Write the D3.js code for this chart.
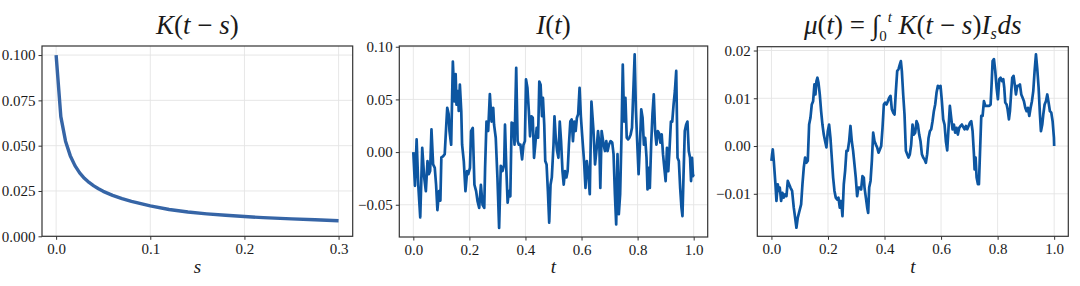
<!DOCTYPE html>
<html>
<head>
<meta charset="utf-8">
<script src="https://cdn.jsdelivr.net/npm/d3@7"></script>
<style>
  html, body { margin: 0; padding: 0; background: #ffffff; }
  svg { display: block; }
  text { font-family: 'Liberation Serif', serif; fill: #1a1a1a; }
</style>
</head>
<body>
<svg id="chart" width="1080" height="286"></svg>
<script>
// ---------- data ----------
const kS = [0, 0.005, 0.01, 0.015, 0.02, 0.025, 0.03, 0.035, 0.04, 0.045, 0.05, 0.06, 0.07, 0.08, 0.09, 0.1,
            0.12, 0.14, 0.16, 0.18, 0.2, 0.22, 0.25, 0.275, 0.3];
const kV = [0.1, 0.066, 0.0525, 0.0445, 0.039, 0.035, 0.032, 0.0297, 0.0278, 0.0262, 0.0248, 0.0226, 0.0208, 0.0193, 0.018, 0.0168,
            0.0148, 0.0134, 0.0124, 0.0116, 0.0109, 0.0103, 0.0096, 0.0091, 0.0086];

const iT = [0, 0.0059, 0.0118, 0.0176, 0.0247, 0.0318, 0.0388, 0.0447, 0.0506, 0.0553, 0.06, 0.0647, 0.0706, 0.0765, 0.0812,
  0.0859, 0.0918, 0.0965, 0.1, 0.106, 0.112, 0.118, 0.121, 0.126, 0.129, 0.135, 0.141, 0.147, 0.151, 0.154, 0.159, 0.162,
  0.166, 0.171, 0.174, 0.18, 0.186, 0.192, 0.196, 0.202, 0.206, 0.212, 0.218, 0.224, 0.229, 0.235, 0.241, 0.247, 0.253,
  0.256, 0.261, 0.267, 0.273, 0.279, 0.285, 0.288, 0.294, 0.3, 0.306, 0.312, 0.318, 0.324,
  0.327, 0.332, 0.3364, 0.341, 0.346, 0.3506, 0.3564, 0.361, 0.367, 0.372, 0.3764, 0.382, 0.388, 0.393, 0.398, 0.402,
  0.407, 0.412, 0.4164, 0.421, 0.426, 0.4306, 0.435, 0.44, 0.445, 0.4494, 0.454, 0.459, 0.4623, 0.467, 0.4706, 0.4753,
  0.48, 0.4847, 0.4894, 0.494, 0.5, 0.5035, 0.508, 0.513, 0.5176, 0.5223, 0.527, 0.532, 0.5364, 0.541, 0.546, 0.5505,
  0.555, 0.56, 0.5647, 0.5694, 0.574, 0.579, 0.5835, 0.588, 0.593, 0.5976, 0.602, 0.609, 0.6141, 0.6188, 0.6235, 0.6294,
  0.6353, 0.6423, 0.6482, 0.6541, 0.6588, 0.6635, 0.667, 0.6717,
  0.6789, 0.6836, 0.6883, 0.693, 0.6977, 0.7036, 0.7095, 0.7142, 0.719, 0.7236, 0.7283, 0.733, 0.7377, 0.7424, 0.7471,
  0.7518, 0.7565, 0.7612, 0.766, 0.7706, 0.7753, 0.78, 0.7847, 0.7895, 0.794, 0.799, 0.8035, 0.8083, 0.813, 0.8177,
  0.8224, 0.827, 0.8318, 0.8353, 0.8389, 0.8436, 0.8483, 0.853, 0.8577, 0.8624, 0.8671, 0.8718, 0.8765, 0.8812, 0.8859,
  0.8906, 0.8953, 0.9, 0.9047, 0.9094, 0.9141, 0.9188, 0.9235, 0.9283, 0.933, 0.9377, 0.9424, 0.9471, 0.9518, 0.9565,
  0.96, 0.9636, 0.9683, 0.973, 0.9777, 0.9824, 0.9871, 0.9906, 0.9942, 0.9975, 1.0];
const iV = [0, -0.032, 0.012, -0.031, -0.062, 0.004, -0.024, -0.037, -0.0085, -0.021, -0.018, 0.0215, -0.0117, -0.015, -0.031,
  -0.055, -0.037, -0.046, -0.005, -0.004, -0.002, 0.028, 0.042, 0.036, 0.020, 0.007, 0.086, 0.048, 0.074, 0.045, 0.058, 0.039,
  0.064, 0.039, 0.007, -0.0085, -0.037, -0.018, -0.021, -0.015, 0.020, 0.023, -0.031, -0.037, -0.0465, -0.053, -0.031, -0.050, -0.053,
  -0.015, 0.029, 0.020, 0.055, 0.029, 0.042, 0.026, 0.0136, -0.024, -0.072, -0.013, -0.018, -0.012,
  0.026, -0.018, -0.048, -0.037, -0.042, 0.028, 0.027, 0.007, 0.080, 0.0104, 0.007, 0.007, -0.007, 0.007, 0.0104, 0.069,
  0.061, 0.039, 0.015, 0.034, 0.0326, -0.0054, 0.007, 0.023, 0.0136, 0.067, 0.064, 0.034, 0.0515, 0.026, -0.0085, -0.0117,
  -0.037, -0.067, -0.031, -0.024, 0.007, 0.034, 0.0136, 0.001, -0.0054, 0.029, 0.0104, -0.018, -0.031, -0.018, -0.024, -0.018,
  0.007, 0.029, 0.031, 0.0104, 0.029, 0.020, 0.0326, 0.036, 0.061, 0.034, 0.0168, -0.0085, -0.034, -0.0085, -0.018, -0.040,
  0.048, 0.0215, -0.0117, 0.004, 0.020, 0.007, -0.034, 0.020,
  0.007, 0.001, 0.0104, 0.001, 0.007, 0.0104, 0.009, -0.002, -0.040, -0.0686, -0.002, -0.059, -0.040, 0.0136, 0.083,
  0.029, 0.0515, 0.0136, 0.012, 0.0136, 0.0168, 0.023, 0.058, 0.0927, 0.039, 0.007, -0.021, 0.007, 0.0405, 0.0326,
  0.007, 0.0136, -0.0054, -0.0354, -0.015, -0.034, 0.007, 0.036, 0.0547, 0.020, 0.007, 0.020, 0.018, 0.009, 0.0168,
  -0.002, -0.015, -0.0275, 0.004, -0.018, 0.004, 0.029, 0.029, 0.045, 0.058, 0.077, -0.0054, -0.0085, -0.034, -0.053,
  -0.0607, -0.024, 0.020, 0.026, 0.029, 0.001, -0.0054, -0.0275, -0.0054, -0.0228, -0.021];

const muT = [0, 0.0024, 0.0047, 0.0083, 0.0142, 0.0177, 0.0224, 0.0259, 0.0295, 0.0342, 0.0389, 0.0436, 0.0483, 0.0531, 0.0578,
  0.0625, 0.0672, 0.0731, 0.079, 0.0837, 0.0884, 0.0932, 0.0991, 0.105, 0.1097, 0.1144, 0.1191, 0.1238, 0.1285, 0.1333,
  0.138, 0.1427, 0.1474, 0.1521, 0.1557, 0.1592, 0.1627, 0.1663, 0.171, 0.1757, 0.1804, 0.1851, 0.1899, 0.1946, 0.1993,
  0.204, 0.2087, 0.2134, 0.2182, 0.2229, 0.2276, 0.2323, 0.237, 0.2417, 0.2465, 0.2512, 0.2559, 0.2606, 0.2653, 0.27,
  0.2748, 0.2795, 0.2842, 0.2889, 0.2936, 0.2983, 0.3031, 0.3078, 0.3125, 0.3172, 0.322, 0.3267,
  0.3292, 0.334, 0.3387, 0.3422, 0.3457, 0.3505, 0.3552, 0.3599, 0.3646, 0.3693, 0.374, 0.3788, 0.3835, 0.3882, 0.3929,
  0.3976, 0.4023, 0.4071, 0.4118, 0.4165, 0.4212, 0.4259, 0.4307, 0.4354, 0.4401, 0.4448, 0.4495, 0.4542, 0.4578, 0.4613,
  0.466, 0.4707, 0.4755, 0.4802, 0.4849, 0.4896, 0.4943, 0.499, 0.5038, 0.5085, 0.5132, 0.5179, 0.5226, 0.5273, 0.5321,
  0.5368, 0.5415, 0.5462, 0.5509, 0.5557, 0.5604, 0.5651, 0.5698, 0.5745, 0.5792, 0.584, 0.5887, 0.5934, 0.5981, 0.6028,
  0.6075, 0.6123, 0.617, 0.6217, 0.6264, 0.6311, 0.6358, 0.6406, 0.6453, 0.65, 0.6547, 0.6594, 0.6641, 0.6689, 0.6736,
  0.6832, 0.6879, 0.6926, 0.6974, 0.7021, 0.7068, 0.7115, 0.7162, 0.7186, 0.7221, 0.7257, 0.7304, 0.7339, 0.7375, 0.7422,
  0.7469, 0.7516, 0.7563, 0.761, 0.7658, 0.7705, 0.7752, 0.7787, 0.7823, 0.787, 0.7917, 0.7964, 0.8011, 0.8058, 0.8106,
  0.8153, 0.82, 0.8235, 0.827, 0.8318, 0.8353, 0.84, 0.8436, 0.8483, 0.8518, 0.8565, 0.8612, 0.8648, 0.8695, 0.8742,
  0.8789, 0.8837, 0.8884, 0.8931, 0.8978, 0.9025, 0.9072, 0.912, 0.9167, 0.9214, 0.9261, 0.9308, 0.9356, 0.9403, 0.945,
  0.9497, 0.9532, 0.9579, 0.9615, 0.9662, 0.9709, 0.9756, 0.9803, 0.985, 0.9898, 0.9945, 0.9992, 1.0];
const muV = [-0.0031, -0.0017, -0.0007, -0.0031, -0.008, -0.0115, -0.008, -0.0094, -0.0087, -0.0115, -0.0098, -0.0108, -0.0101, -0.0105, -0.0073,
  -0.008, -0.0087, -0.0094, -0.0129, -0.015, -0.0171, -0.015, -0.0136, -0.0122, -0.008, -0.0045, -0.0024, -0.0035, -0.0031, 0.0045,
  0.0059, 0.0087, 0.0094, 0.0129, 0.0108, 0.0136, 0.0143, 0.0133, 0.0108, 0.0073, 0.0045, 0.0024, 0.001, -0.0003, 0.0031,
  0.0045, 0.0017, -0.0024, -0.0066, -0.0094, -0.0108, -0.0112, -0.0108, -0.0129, -0.0115, -0.0147, -0.008, -0.0052, -0.001, -0.001,
  0.001, 0.0042, 0.001, -0.001, -0.0038, -0.0066, -0.0105, -0.0087, -0.0087, -0.0091, -0.0063, -0.0066,
  -0.0087, -0.0108, -0.0129, -0.014, -0.0087, -0.0073, -0.0031, 0.0028, 0.001, 0.0003, -0.0003, -0.0014, -0.0007, 0, 0.0038,
  0.0087, 0.0091, 0.0087, 0.0094, 0.0101, 0.0105, 0.0077, 0.007, 0.0066, 0.0115, 0.0157, 0.0161, 0.0171, 0.0178, 0.0157,
  0.0108, 0.0066, -0.001, -0.0017, -0.0024, -0.0017, 0.0003, 0.0045, 0.0024, 0.0028, 0.0052, 0.0045, 0.0024, 0.001, -0.0017,
  -0.0024, -0.0028, -0.0035, -0.0017, 0.0017, 0.0031, 0.0035, 0.0052, 0.0073, 0.0087, 0.0112, 0.0126, 0.0122, 0.0126, 0.0094,
  0.0056, 0.0045, 0.001, -0.0009, 0.0038, 0.0084, 0.0059, 0.0035, 0.0045, 0.0028, 0.0038, 0.0024, 0.0038, 0.0042, 0.0045,
  0.0035, 0.0042, 0.0035, 0.0042, 0.0049, 0.0052, 0.0031, -0.0017, -0.0049, -0.0024, -0.0066, -0.008, -0.008, -0.0017, 0.0063,
  0.0063, 0.0094, 0.0084, 0.0084, 0.0084, 0.0084, 0.0087, 0.0129, 0.0178, 0.0182, 0.0157, 0.0122, 0.0098, 0.014, 0.0143,
  0.0136, 0.014, 0.0122, 0.0091, 0.0087, 0.0077, 0.0056, 0.0073, 0.0115, 0.0143, 0.0147, 0.0126, 0.0108, 0.0126, 0.0126,
  0.0129, 0.0108, 0.0101, 0.0094, 0.008, 0.0073, 0.008, 0.0063, 0.008, 0.0094, 0.0115, 0.0157, 0.0192, 0.0161, 0.0122,
  0.0066, 0.0031, 0.0045, 0.0066, 0.0087, 0.0094, 0.0108, 0.0091, 0.0073, 0.007, 0.0052, 0.0017, 0];

const kXTicks = [0, 0.1, 0.2, 0.3];
const kYTicks = [0, 0.025, 0.05, 0.075, 0.1];
const tTicks = [0, 0.2, 0.4, 0.6, 0.8, 1.0];
const iYTicks = [-0.05, 0, 0.05, 0.10];
const muYTicks = [-0.01, 0, 0.01, 0.02];

// ---------- drawing ----------
const FONT = "'Liberation Serif', serif";
const svg = d3.select("#chart");
const minus = s => s.replace("-", "\u2212");

function panel(cfg) {
  const g = svg.append("g");
  const x = d3.scaleLinear().domain(cfg.xDomain).range([cfg.left, cfg.right]);
  const y = d3.scaleLinear().domain(cfg.yDomain).range([cfg.bottom, cfg.top]);

  // grid
  g.append("g").selectAll("line").data(cfg.xTicks).join("line")
    .attr("x1", d => x(d)).attr("x2", d => x(d))
    .attr("y1", cfg.top).attr("y2", cfg.bottom)
    .attr("stroke", "#e4e4e4").attr("stroke-width", 0.9);
  g.append("g").selectAll("line").data(cfg.yTicks).join("line")
    .attr("x1", cfg.left).attr("x2", cfg.right)
    .attr("y1", d => y(d)).attr("y2", d => y(d))
    .attr("stroke", "#e4e4e4").attr("stroke-width", 0.9);

  // data line
  const pts = cfg.xs.map((d, i) => [d, cfg.ys[i]]);
  g.append("path").datum(pts)
    .attr("d", d3.line().x(d => x(d[0])).y(d => y(d[1])))
    .attr("fill", "none").attr("stroke", cfg.color)
    .attr("stroke-width", cfg.lw).attr("stroke-linejoin", "round").attr("stroke-linecap", "butt");

  // axes
  const xAxis = d3.axisBottom(x).tickValues(cfg.xTicks).tickFormat(cfg.xFmt).tickSize(3.5).tickPadding(4);
  const yAxis = d3.axisLeft(y).tickValues(cfg.yTicks).tickFormat(cfg.yFmt).tickSize(3.5).tickPadding(3);
  const ax = g.append("g").attr("transform", `translate(0,${cfg.bottom})`).call(xAxis);
  const ay = g.append("g").attr("transform", `translate(${cfg.left},0)`).call(yAxis);
  [ax, ay].forEach(a => {
    a.attr("font-family", FONT).attr("font-size", 15);
    a.select(".domain").remove();
    a.selectAll(".tick line").attr("stroke", "#333").attr("stroke-width", 1);
    a.selectAll(".tick text").attr("fill", "#1a1a1a");
  });

  // frame
  g.append("rect").attr("x", cfg.left).attr("y", cfg.top)
    .attr("width", cfg.right - cfg.left).attr("height", cfg.bottom - cfg.top)
    .attr("fill", "none").attr("stroke", "#333").attr("stroke-width", 1.2);

  // x label
  g.append("text").attr("x", (cfg.left + cfg.right) / 2).attr("y", 273)
    .attr("text-anchor", "middle").attr("font-size", 19).attr("font-style", "italic")
    .text(cfg.xlabel);

  // title
  const t = g.append("text").attr("x", (cfg.left + cfg.right) / 2).attr("y", 34)
    .attr("text-anchor", "middle").attr("font-size", 27);
  cfg.title(t);
}

function it(sel, s) { return sel.append("tspan").attr("font-style", "italic").text(s); }
function rm(sel, s) { return sel.append("tspan").attr("font-style", "normal").text(s); }

panel({
  left: 42, right: 352.7, top: 46, bottom: 236.3,
  xDomain: [-0.015, 0.315], yDomain: [0, 0.105],
  xTicks: kXTicks, yTicks: kYTicks,
  xFmt: d3.format(".1f"), yFmt: d => minus(d3.format(".3f")(d)),
  xs: kS, ys: kV, color: "#3665a6", lw: 3.4, xlabel: "s",
  title: t => { it(t, "K"); rm(t, "("); it(t, "t"); rm(t, " \u2212 "); it(t, "s"); rm(t, ")"); }
});

panel({
  left: 399.3, right: 707.7, top: 46, bottom: 237,
  xDomain: [-0.05, 1.05], yDomain: [-0.0806, 0.1007],
  xTicks: tTicks, yTicks: iYTicks,
  xFmt: d3.format(".1f"), yFmt: d => minus(d3.format(".2f")(d)),
  xs: iT, ys: iV, color: "#0d56a1", lw: 2.7, xlabel: "t",
  title: t => { it(t, "I"); rm(t, "("); it(t, "t"); rm(t, ")"); }
});

panel({
  left: 757.3, right: 1068.3, top: 46.7, bottom: 236.3,
  xDomain: [-0.05, 1.05], yDomain: [-0.0189, 0.0208],
  xTicks: tTicks, yTicks: muYTicks,
  xFmt: d3.format(".1f"), yFmt: d => minus(d3.format(".2f")(d)),
  xs: muT, ys: muV, color: "#0d56a1", lw: 2.7, xlabel: "t",
  title: t => {
    it(t, "\u03bc"); rm(t, "("); it(t, "t"); rm(t, ") = "); rm(t, "\u222b");
    rm(t, "0").attr("font-size", 15).attr("dy", 7);
    it(t, "t").attr("font-size", 15).attr("dx", 1).attr("dy", -19);
    it(t, " K").attr("dy", 12); rm(t, "("); it(t, "t"); rm(t, " \u2212 "); it(t, "s"); rm(t, ")");
    it(t, "I"); it(t, "s").attr("font-size", 16).attr("dy", 5);
    it(t, "ds").attr("dx", 1).attr("dy", -5);
  }
});
</script>
</body>
</html>
